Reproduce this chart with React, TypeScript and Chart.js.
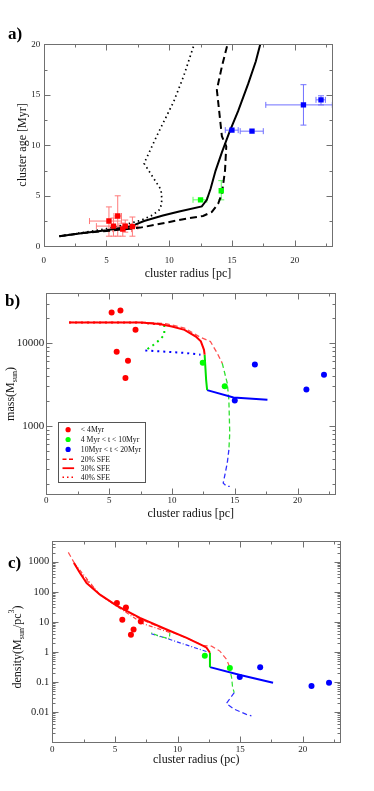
import React, { useEffect, useRef } from 'react';
import { Chart, registerables } from 'chart.js';
Chart.register(...registerables);

const FONT = "'Liberation Serif', 'Times New Roman', serif";
const W = 374;
const RED = '#ff0000';
const GREEN = '#00ff00';
const BLUE = '#0000ff';
const FRAME = '#707070';

// ---------------- shared ticks ----------------
const xMajorTicks = [0, 5, 10, 15, 20];
const xMinorTicks = [2.5, 7.5, 12.5, 17.5, 22.5];

// ---------------- panel a : age vs radius ----------------
const aYMajor = [0, 5, 10, 15, 20];
const aYMinor = [2.5, 7.5, 12.5, 17.5];

const aRedX = [5.2, 5.9, 5.56, 6.3, 6.5, 7.07];
const aRedY = [2.5, 3.0, 2.0, 1.7, 2.0, 1.95];
const aRedXLo = [3.65, 5.6, 4.2, 5.5, 6.0, 6.6];
const aRedXHi = [6.2, 6.2, 7.0, 7.0, 7.1, 7.5];
const aRedYLo = [1.0, 1.0, 1.0, 1.0, 1.4, 1.0];
const aRedYHi = [3.9, 5.0, 2.8, 2.3, 2.6, 2.9];

const aGreenX = [12.5, 14.15];
const aGreenY = [4.6, 5.5];
const aGreenXLo = [11.9, 14.15];
const aGreenXHi = [13.0, 14.15];
const aGreenYLo = [4.6, 4.6];
const aGreenYHi = [4.6, 6.5];

const aBlueX = [15.0, 16.6, 20.7, 22.1];
const aBlueY = [11.5, 11.4, 14.0, 14.5];
const aBlueXLo = [14.47, 15.66, 17.7, 21.7];
const aBlueXHi = [15.5, 17.5, 23.0, 22.45];
const aBlueYLo = [11.5, 11.4, 12.0, 14.0];
const aBlueYHi = [11.5, 11.4, 16.0, 14.9];

const aSolidX = [1.25, 3.0, 5.0, 6.9, 8.0, 9.5, 10.8, 12.6, 13.0, 13.3, 13.7, 14.2, 14.8, 15.5, 16.3, 16.9, 17.26];
const aSolidY = [1.0, 1.3, 1.6, 1.95, 2.5, 3.05, 3.45, 3.95, 4.6, 5.7, 7.5, 9.3, 11.3, 13.4, 16.1, 18.3, 20];
const aDashX = [1.25, 3.0, 5.3, 7.7, 9.8, 11.4, 12.7, 13.4, 13.9, 14.2, 14.45, 14.55, 14.2, 13.8, 14.2, 14.65];
const aDashY = [1.0, 1.3, 1.55, 1.85, 2.35, 2.75, 3.0, 3.4, 4.2, 5.2, 7.5, 9.9, 10.9, 15.5, 17.8, 20];
const aDotX = [1.25, 3.0, 5.0, 6.5, 7.8, 8.7, 9.3, 9.42, 9.35, 8.0, 9.0, 10.35, 11.14, 11.94];
const aDotY = [1.0, 1.35, 1.75, 2.15, 2.6, 3.1, 3.7, 4.6, 5.6, 8.2, 10.9, 14.3, 16.8, 19.8];

// ---------------- panel b : mass vs radius ----------------
const bYMajor = [1000, 10000];
const bYMinor = [200, 300, 400, 500, 600, 700, 800, 900, 2000, 3000, 4000, 5000, 6000, 7000, 8000, 9000, 20000, 30000, 40000];

const bRedX = [5.2, 5.9, 7.1, 5.6, 6.5, 6.3];
const bRedY = [23500, 24800, 14500, 7850, 6100, 3780];
const bGreenX = [12.45, 14.2];
const bGreenY = [5780, 3020];
const bBlueX = [15.0, 16.6, 20.7, 22.1];
const bBlueY = [2020, 5520, 2750, 4140];

const bRed30X = [1.81, 7.5, 9.0, 10.0, 11.0, 11.9, 12.3, 12.55, 12.6];
const bRed30Y = [17800, 17800, 17000, 15850, 14450, 12000, 10500, 8300, 7250];
const bGreen30X = [12.6, 12.72, 12.8];
const bGreen30Y = [7250, 3600, 2700];
const bBlue30X = [12.8, 14.9, 17.6];
const bBlue30Y = [2700, 2200, 2060];

const bRed20X = [1.81, 8.0, 9.6, 11.0, 12.27, 13.06, 13.6, 14.0];
const bRed20Y = [17800, 17800, 17100, 15200, 11750, 10470, 7570, 5730];
const bGreen20X = [14.0, 14.4, 14.53, 14.6, 14.53];
const bGreen20Y = [5730, 3280, 2060, 817, 513];
const bBlue20X = [14.53, 14.4, 14.08, 14.34, 14.6];
const bBlue20Y = [513, 354, 203, 186, 185];

const bRed40X = [1.81, 7.5, 9.39];
const bRed40Y = [17800, 17700, 16600];
const bGreen40X = [9.39, 9.39, 9.02, 8.54, 7.88];
const bGreen40Y = [16600, 12600, 10960, 9540, 8140];
const bBlue40X = [7.88, 9.5, 11.2, 12.27];
const bBlue40Y = [8140, 7860, 7570, 7230];

const bLegendLabels = ['< 4Myr', '4 Myr < t < 10Myr', '10Myr < t < 20Myr', '20% SFE', '30% SFE', '40% SFE'];

// ---------------- panel c : density vs radius ----------------
const cYMajor = [0.01, 0.1, 1, 10, 100, 1000];
const cYMinor: number[] = [];
[0.001, 0.01, 0.1, 1, 10, 100, 1000].forEach((d) => {
  for (let m = 2; m <= 9; m++) {
    const v = +(d * m).toPrecision(3);
    if (v <= 5000) cYMinor.push(v);
  }
});

const cRedX = [5.16, 5.88, 5.59, 7.07, 6.49, 6.28];
const cRedY = [42.5, 29.7, 11.6, 10.2, 5.5, 3.7];
const cGreenX = [12.18, 14.18];
const cGreenY = [0.74, 0.29];
const cBlueX = [14.97, 16.6, 20.7, 22.1];
const cBlueY = [0.145, 0.31, 0.073, 0.094];

const cRed30X = [1.73, 2.21, 2.74, 3.81, 5.14, 7.0, 9.13, 10.73, 12.1, 12.32, 12.59];
const cRed30Y = [906, 422, 195, 80, 34.7, 13.5, 5.55, 2.93, 1.55, 1.37, 0.93];
const cGreen30X = [12.59, 12.59];
const cGreen30Y = [0.93, 0.31];
const cBlue30X = [12.59, 15.0, 17.63];
const cBlue30Y = [0.31, 0.17, 0.094];

const cRed20X = [1.28, 1.73, 2.21, 3.81, 5.14, 7.0, 9.13, 10.73, 12.1, 12.72, 13.38, 13.92, 14.13];
const cRed20Y = [2040, 950, 430, 80, 34, 12.5, 5.3, 2.9, 1.6, 1.55, 1.06, 0.56, 0.34];
const cGreen20X = [14.13, 14.32, 14.4, 14.53];
const cGreen20Y = [0.34, 0.138, 0.065, 0.044];
const cBlue20X = [14.53, 13.9, 14.5, 15.5, 15.9];
const cBlue20Y = [0.044, 0.019, 0.0126, 0.0083, 0.0074];

const cRed40X = [1.73, 3.81, 5.14, 7.26, 9.39];
const cRed40Y = [906, 78, 33, 8.6, 4.4];
const cGreen40X = [9.39, 9.35, 8.6, 7.9];
const cGreen40Y = [4.4, 2.8, 3.2, 4.3];
const cBlue40X = [7.9, 8.6, 12.45];
const cBlue40Y = [4.0, 3.3, 0.98];

// ---------------- helpers ----------------
const pts = (xs: number[], ys: number[]) => xs.map((x, i) => ({ x, y: ys[i] }));

type Geom = {
  top: number; height: number; L: number; R: number; T: number; B: number;
  xTitleC: number; xTickC: number; xTickSize: number; yTickSize: number; yGap: number;
};

const gA: Geom = { top: 28, height: 252, L: 43.7, R: 332.3, T: 44.3, B: 246.3, xTitleC: 273.5, xTickC: 260.3, xTickSize: 9, yTickSize: 9, yGap: 3.5 };
const gB: Geom = { top: 280, height: 245, L: 46.3, R: 335.3, T: 293.3, B: 494, xTitleC: 514.3, xTickC: 500.7, xTickSize: 9, yTickSize: 11, yGap: 2 };
const gC: Geom = { top: 525, height: 266, L: 52.3, R: 340.3, T: 540.7, B: 742, xTitleC: 760, xTickC: 750, xTickSize: 9, yTickSize: 10.5, yGap: 3 };

function framePlugin(xMaj: number[], xMin: number[], yMaj: number[], yMin: number[]) {
  return {
    id: 'frame',
    afterDatasetsDraw(chart: any) {
      const { ctx, chartArea: a, scales } = chart;
      const xs = scales.x, ys = scales.y;
      const l = Math.round(a.left) + 0.5, r = Math.round(a.right) + 0.5;
      const t = Math.round(a.top) + 0.5, b = Math.round(a.bottom) + 0.5;
      ctx.save();
      ctx.strokeStyle = FRAME;
      ctx.lineWidth = 1;
      ctx.strokeRect(l, t, r - l, b - t);
      ctx.beginPath();
      const xt = (vals: number[], len: number) => vals.forEach((v) => {
        const p = Math.round(xs.getPixelForValue(v)) + 0.5;
        ctx.moveTo(p, b); ctx.lineTo(p, b - len);
        ctx.moveTo(p, t); ctx.lineTo(p, t + len);
      });
      const yt = (vals: number[], len: number) => vals.forEach((v) => {
        const p = Math.round(ys.getPixelForValue(v)) + 0.5;
        ctx.moveTo(l, p); ctx.lineTo(l + len, p);
        ctx.moveTo(r, p); ctx.lineTo(r - len, p);
      });
      xt(xMaj, 6); xt(xMin, 3); yt(yMaj, 6); yt(yMin, 3);
      ctx.stroke();
      ctx.restore();
    },
  };
}

const errorBarPlugin = {
  id: 'errbars',
  beforeDatasetsDraw(chart: any) {
    const { ctx, scales } = chart;
    const xs = scales.x, ys = scales.y;
    chart.data.datasets.forEach((ds: any) => {
      const e = ds.err;
      if (!e) return;
      ctx.save();
      ctx.strokeStyle = e.color;
      ctx.lineWidth = 1;
      ctx.beginPath();
      ds.data.forEach((p: any, i: number) => {
        const px = xs.getPixelForValue(p.x), py = ys.getPixelForValue(p.y);
        if (e.xLo[i] !== e.xHi[i]) {
          const xl = xs.getPixelForValue(e.xLo[i]), xh = xs.getPixelForValue(e.xHi[i]);
          ctx.moveTo(xl, py); ctx.lineTo(xh, py);
          ctx.moveTo(xl, py - 3); ctx.lineTo(xl, py + 3);
          ctx.moveTo(xh, py - 3); ctx.lineTo(xh, py + 3);
        }
        if (e.yLo[i] !== e.yHi[i]) {
          const yl = ys.getPixelForValue(e.yLo[i]), yh = ys.getPixelForValue(e.yHi[i]);
          ctx.moveTo(px, yl); ctx.lineTo(px, yh);
          ctx.moveTo(px - 3, yl); ctx.lineTo(px + 3, yl);
          ctx.moveTo(px - 3, yh); ctx.lineTo(px + 3, yh);
        }
      });
      ctx.stroke();
      ctx.restore();
    });
  },
};

const legendPluginB = {
  id: 'bLegend',
  afterDraw(chart: any) {
    const { ctx, chartArea: a } = chart;
    const x0 = Math.round(a.left + 11.4) + 0.5;
    const y0 = Math.round(a.bottom - 71.7) + 0.5;
    const w = 87, h = 60;
    ctx.save();
    ctx.fillStyle = '#fff';
    ctx.fillRect(x0, y0, w, h);
    ctx.strokeStyle = '#555';
    ctx.lineWidth = 1;
    ctx.strokeRect(x0, y0, w, h);
    const rows = [7.2, 17, 26.9, 36.7, 45.7, 54.7];
    const dotColors = [RED, GREEN, BLUE];
    ctx.font = `7.7px ${FONT}`;
    ctx.textBaseline = 'middle';
    ctx.textAlign = 'left';
    bLegendLabels.forEach((lab, i) => {
      const y = y0 + rows[i];
      if (i < 3) {
        ctx.fillStyle = dotColors[i];
        ctx.beginPath();
        ctx.arc(x0 + 9.6, y, 2.6, 0, Math.PI * 2);
        ctx.fill();
      } else {
        ctx.strokeStyle = RED;
        ctx.lineWidth = i === 4 ? 1.8 : 1.4;
        ctx.setLineDash(i === 3 ? [4, 2.5] : i === 5 ? [1.5, 3] : []);
        ctx.beginPath();
        ctx.moveTo(x0 + 4, y); ctx.lineTo(x0 + 15.6, y);
        ctx.stroke();
        ctx.setLineDash([]);
      }
      ctx.fillStyle = '#111';
      ctx.fillText(lab, x0 + 22.3, y + 0.5);
    });
    ctx.restore();
  },
};

function buildOptions(g: Geom, xTitle: string, yType: string, yMin: number, yMax: number, yTicks: number[]) {
  const titleBottom = g.xTitleC + 6;
  const xAxisH = titleBottom - g.B;
  return {
    responsive: false,
    animation: false,
    devicePixelRatio: 1,
    events: [],
    layout: {
      padding: { left: 0, right: W - g.R, top: g.T - g.top, bottom: g.top + g.height - titleBottom },
    },
    plugins: { legend: { display: false }, tooltip: { enabled: false }, title: { display: false } },
    scales: {
      x: {
        type: 'linear', position: 'bottom', min: 0, max: 23,
        afterBuildTicks: (s: any) => { s.ticks = xMajorTicks.map((v) => ({ value: v })); },
        afterFit: (s: any) => { s.height = xAxisH; },
        grid: { display: false, drawTicks: false },
        border: { display: false },
        ticks: {
          autoSkip: false, maxRotation: 0, color: '#222',
          font: { family: FONT, size: g.xTickSize, lineHeight: 1 },
          padding: g.xTickC - g.B - g.xTickSize / 2,
          callback: (v: any) => String(v),
        },
        title: { display: true, text: xTitle, color: '#111', padding: 0, font: { family: FONT, size: 12, lineHeight: 1 } },
      },
      y: {
        type: yType, position: 'left', min: yMin, max: yMax,
        afterBuildTicks: (s: any) => { s.ticks = yTicks.map((v) => ({ value: v })); },
        afterFit: (s: any) => { s.width = g.L; },
        grid: { display: false, drawTicks: false },
        border: { display: false },
        ticks: {
          autoSkip: false, color: '#222',
          font: { family: FONT, size: g.yTickSize, lineHeight: 1 },
          padding: g.yGap,
          callback: (v: any) => String(v),
        },
        title: { display: false },
      },
    },
  };
}

const line = (xs: number[], ys: number[], color: string, width: number, dash: number[]) => ({
  data: pts(xs, ys), showLine: true, pointRadius: 0, borderColor: color, borderWidth: width,
  borderDash: dash, fill: false, tension: 0, backgroundColor: color,
});

const squares = (xs: number[], ys: number[], color: string, err: any) => ({
  data: pts(xs, ys), showLine: false, pointStyle: 'rect', pointRadius: 3.8, borderWidth: 0,
  backgroundColor: color, borderColor: color, err,
});

const dots = (xs: number[], ys: number[], color: string) => ({
  data: pts(xs, ys), showLine: false, pointStyle: 'circle', pointRadius: 3, borderWidth: 0,
  backgroundColor: color, borderColor: color,
});

function configA(): any {
  return {
    type: 'scatter',
    data: {
      datasets: [
        squares(aRedX, aRedY, RED, { color: '#ff7a7a', xLo: aRedXLo, xHi: aRedXHi, yLo: aRedYLo, yHi: aRedYHi }),
        squares(aGreenX, aGreenY, GREEN, { color: '#5cff5c', xLo: aGreenXLo, xHi: aGreenXHi, yLo: aGreenYLo, yHi: aGreenYHi }),
        squares(aBlueX, aBlueY, BLUE, { color: '#7070ff', xLo: aBlueXLo, xHi: aBlueXHi, yLo: aBlueYLo, yHi: aBlueYHi }),
        line(aSolidX, aSolidY, '#000', 2, []),
        line(aDashX, aDashY, '#000', 2, [7, 4]),
        line(aDotX, aDotY, '#000', 1.7, [1.5, 3.2]),
      ],
    },
    options: buildOptions(gA, 'cluster radius [pc]', 'linear', 0, 20, aYMajor),
    plugins: [errorBarPlugin, framePlugin(xMajorTicks, xMinorTicks, aYMajor, aYMinor)],
  };
}

function configB(): any {
  return {
    type: 'scatter',
    data: {
      datasets: [
        dots(bRedX, bRedY, RED),
        dots(bGreenX, bGreenY, GREEN),
        dots(bBlueX, bBlueY, BLUE),
        line(bRed30X, bRed30Y, RED, 2, []),
        line(bGreen30X, bGreen30Y, '#00e000', 2, []),
        line(bBlue30X, bBlue30Y, BLUE, 2, []),
        line(bRed20X, bRed20Y, '#ff5050', 1.3, [5, 3]),
        line(bGreen20X, bGreen20Y, '#30e030', 1.3, [5, 3]),
        line(bBlue20X, bBlue20Y, '#3030ff', 1.3, [5, 3]),
        line(bRed40X, bRed40Y, RED, 2, [2, 4]),
        line(bGreen40X, bGreen40Y, '#00e000', 2, [2, 4]),
        line(bBlue40X, bBlue40Y, BLUE, 2, [2, 4]),
      ],
    },
    options: buildOptions(gB, 'cluster radius [pc]', 'logarithmic', 150, 40000, bYMajor),
    plugins: [framePlugin(xMajorTicks, xMinorTicks, bYMajor, bYMinor), legendPluginB],
  };
}

function configC(): any {
  return {
    type: 'scatter',
    data: {
      datasets: [
        dots(cRedX, cRedY, RED),
        dots(cGreenX, cGreenY, GREEN),
        dots(cBlueX, cBlueY, BLUE),
        line(cRed30X, cRed30Y, RED, 2, []),
        line(cGreen30X, cGreen30Y, '#00e000', 2, []),
        line(cBlue30X, cBlue30Y, BLUE, 2, []),
        line(cRed20X, cRed20Y, '#ff5050', 1.2, [5, 3]),
        line(cGreen20X, cGreen20Y, '#30e030', 1.2, [5, 3]),
        line(cBlue20X, cBlue20Y, '#3030ff', 1.2, [5, 3]),
        line(cRed40X, cRed40Y, '#ff4040', 1.2, [4, 2, 1, 2]),
        line(cGreen40X, cGreen40Y, '#30e030', 1.2, [4, 2, 1, 2]),
        line(cBlue40X, cBlue40Y, '#3030ff', 1.2, [4, 2, 1, 2]),
      ],
    },
    options: buildOptions(gC, 'cluster radius (pc)', 'logarithmic', 0.001, 5000, cYMajor),
    plugins: [framePlugin(xMajorTicks, xMinorTicks, cYMajor, cYMinor)],
  };
}

function VTitle({ cx, cy, children }: { cx: number; cy: number; children: any }) {
  return (
    <div
      style={{
        position: 'absolute', left: cx, top: cy, transform: 'translate(-50%, -50%) rotate(-90deg)',
        whiteSpace: 'nowrap', fontSize: 12, lineHeight: '14px', color: '#111', fontFamily: FONT,
      }}
    >
      {children}
    </div>
  );
}

const subStyle: any = { fontSize: 8, position: 'relative', top: 3 };
const supStyle: any = { fontSize: 8, position: 'relative', top: -7 };

function PanelLabel({ x, y, text }: { x: number; y: number; text: string }) {
  return (
    <div style={{ position: 'absolute', left: x, top: y, transform: 'translateY(-50%)', fontFamily: FONT, fontWeight: 'bold', fontSize: 17, lineHeight: '18px', color: '#000' }}>
      {text}
    </div>
  );
}

export default function App() {
  const refA = useRef<HTMLCanvasElement>(null);
  const refB = useRef<HTMLCanvasElement>(null);
  const refC = useRef<HTMLCanvasElement>(null);

  useEffect(() => {
    const charts = [
      new Chart(refA.current as HTMLCanvasElement, configA()),
      new Chart(refB.current as HTMLCanvasElement, configB()),
      new Chart(refC.current as HTMLCanvasElement, configC()),
    ];
    return () => charts.forEach((c) => c.destroy());
  }, []);

  return (
    <div style={{ position: 'absolute', left: 0, top: 0, width: W, height: 791, background: '#fff', overflow: 'hidden', fontFamily: FONT }}>
      <canvas ref={refA} width={W} height={gA.height} style={{ position: 'absolute', left: 0, top: gA.top }} />
      <canvas ref={refB} width={W} height={gB.height} style={{ position: 'absolute', left: 0, top: gB.top }} />
      <canvas ref={refC} width={W} height={gC.height} style={{ position: 'absolute', left: 0, top: gC.top }} />
      <PanelLabel x={8} y={34} text="a)" />
      <PanelLabel x={5} y={301} text="b)" />
      <PanelLabel x={8} y={563} text="c)" />
      <VTitle cx={22} cy={145}>cluster age [Myr]</VTitle>
      <VTitle cx={11} cy={394}>
        mass(M<span style={subStyle}>sun</span>)
      </VTitle>
      <VTitle cx={18} cy={647}>
        density(M<span style={subStyle}>sun</span>/pc<span style={supStyle}>3</span>)
      </VTitle>
    </div>
  );
}
